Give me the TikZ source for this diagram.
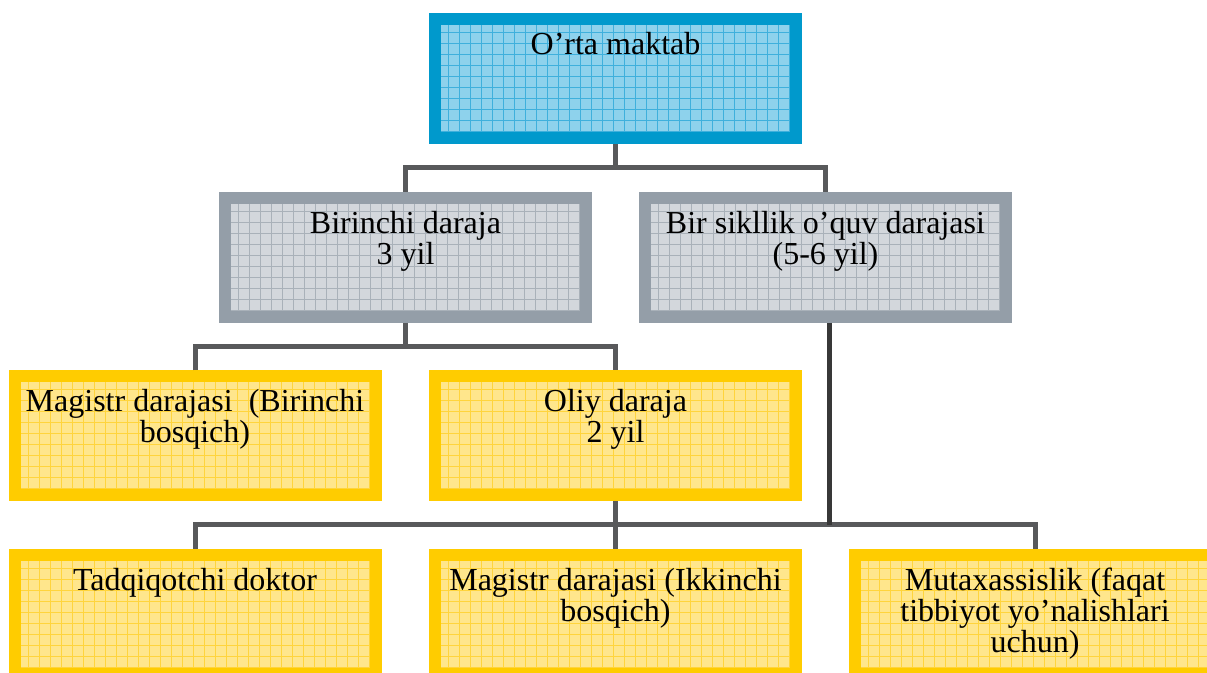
\documentclass[tikz,border=0pt]{standalone}
\usepackage{fontspec}
\setmainfont{Liberation Serif}

\definecolor{blueedge}{HTML}{0099CC}
\definecolor{bluefill}{HTML}{8ED2EC}
\definecolor{bluegrid}{HTML}{3FB0DC}
\definecolor{grayedge}{HTML}{949EA8}
\definecolor{grayfill}{HTML}{D3D7DC}
\definecolor{graygrid}{HTML}{A9B1B9}
\definecolor{yellowedge}{HTML}{FFCC00}
\definecolor{yellowfill}{HTML}{FFE68C}
\definecolor{yellowgrid}{HTML}{FFD43C}
\definecolor{linkgray}{HTML}{58595B}

\tikzset{
	box/.style={rectangle, draw, line width=6pt, inner sep=0pt,
		minimum width=180.5pt, minimum height=59.5pt,
		font=\fontsize{16}{15.5}\selectfont,
		execute at begin node={\begin{minipage}[c][59.5pt][t]{178pt}\centering\vspace*{6.5pt}},
		execute at end node={\end{minipage}}},
	gridfill/.style={fill=#1fill, path picture={
			\draw[#1grid, line width=0.5pt, step=5.5pt]
			(path picture bounding box.south west) grid (path picture bounding box.north east);
	}},
	bluebox/.style={box, draw=blueedge, gridfill=blue},
	graybox/.style={box, draw=grayedge, gridfill=gray},
	yellowbox/.style={box, draw=yellowedge, gridfill=yellow},
	link/.style={draw=linkgray, line width=2.5pt}
}

\begin{document}
\begin{tikzpicture}[x=0.5pt, y=-0.5pt]
	
	\useasboundingbox (0,0) rectangle (1207,673);
	
	%
	\node[bluebox] (ot) at (615.5,79) {O’rta maktab};
	
	%
	\node[graybox] (bd) at (405.5,257.5) {Birinchi daraja\\3 yil};
	\node[graybox] (bs) at (825.5,257.5) {Bir sikllik o’quv darajasi\\(5-6 yil)};
	
	%
	\node[yellowbox] (m1) at (195,436) {Magistr darajasi~ (Birinchi\\bosqich)};
	\node[yellowbox] (od) at (615.5,436) {Oliy daraja\\2 yil};
	
	%
	\node[yellowbox] (td) at (195,614.5) {Tadqiqotchi doktor};
	\node[yellowbox] (m2) at (615.5,614.5) {Magistr darajasi (Ikkinchi\\bosqich)};
	\node[yellowbox] (mt) at (1035,614.5) {Mutaxassislik (faqat\\tibbiyot yo’nalishlari\\uchun)};
	
	
	\coordinate (j1) at (615.5,168);
	\coordinate (j2) at (405.5,347);
	\coordinate (j3) at (615.5,525);
	\coordinate (j4) at (829,525);
	
	\draw[link] (ot.south) -- (j1);
	\draw[link] (bd.north) |- (j1) -| (bs.north);
	
	\draw[link] (bd.south) -- (j2);
	\draw[link] (m1.north) |- (j2) -| (od.north);
	
	\draw[link] (od.south) -- (m2.north);
	\draw[link] (td.north) |- (j3) -| (mt.north);
	\draw[link, draw=black!78] (bs.south -| j4) -- (j4);
	
\end{tikzpicture}
\end{document}
